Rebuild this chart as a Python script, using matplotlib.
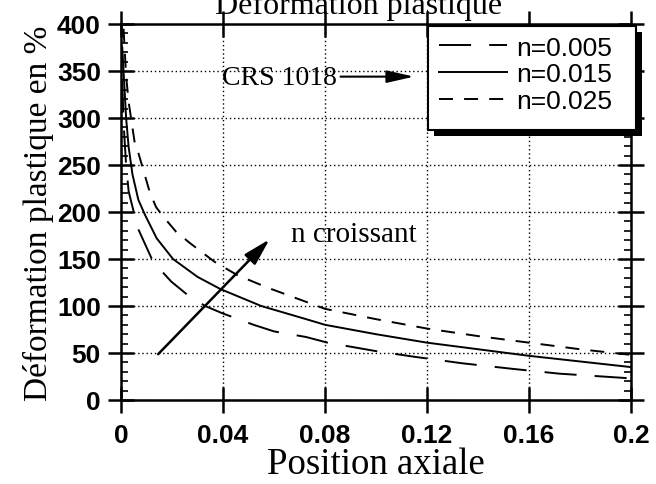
import numpy as np
import matplotlib
matplotlib.use('Agg')
import matplotlib.pyplot as plt
from matplotlib.ticker import MultipleLocator
from matplotlib.patches import Rectangle

# courbes
x_n005 = [0.0005, 0.001, 0.002, 0.003, 0.005, 0.0069, 0.0126, 0.0197, 0.026, 0.033,
          0.04, 0.052, 0.06, 0.0726, 0.081, 0.1, 0.115, 0.134, 0.154, 0.172, 0.2]
y_n005 = [340, 295, 250, 222, 200, 181, 147, 126, 112, 100,
          92, 80, 73, 67, 61, 52, 46, 39, 33, 28, 23]

x_n015 = [0.0005, 0.001, 0.002, 0.003, 0.0045, 0.0068, 0.0094, 0.014, 0.0204, 0.03,
          0.039, 0.055, 0.0726, 0.08, 0.1, 0.12, 0.14, 0.16, 0.18, 0.2]
y_n015 = [375, 350, 300, 269, 240, 213, 197, 172, 150, 131,
          118, 100, 86, 80, 70, 61, 54, 47, 41, 35]

x_n025 = [0.001, 0.002, 0.003, 0.0053, 0.0069, 0.0114, 0.0138, 0.0166, 0.0216, 0.027,
          0.0367, 0.0455, 0.057, 0.067, 0.08, 0.1, 0.12, 0.14, 0.16, 0.18, 0.2]
y_n025 = [395, 345, 317, 275, 262, 220, 205, 195, 179, 167,
          147, 133, 120, 110, 97, 86, 76, 68, 61, 54, 48]

labels = ['n=0.005', 'n=0.015', 'n=0.025']
xticks = [0, 0.04, 0.08, 0.12, 0.16, 0.2]
xtick_labels = ['0', '0.04', '0.08', '0.12', '0.16', '0.2']
yticks = [0, 50, 100, 150, 200, 250, 300, 350, 400]

serif = 'Liberation Serif'
sans = 'Liberation Sans'
W, H = 656, 485

fig = plt.figure(figsize=(6.56, 4.85), dpi=100)
ax = fig.add_axes([121/W, 1 - 401/H, (631 - 121)/W, (401 - 25)/H])

lw = 1.4
ax.plot(x_n005, y_n005, color='k', lw=lw, dashes=(16.5, 9.3), label=labels[0])
ax.plot(x_n015, y_n015, color='k', lw=lw, label=labels[1])
ax.plot(x_n025, y_n025, color='k', lw=lw, dashes=(7.2, 5.7), label=labels[2])

ax.set_xlim(0, 0.2)
ax.set_ylim(0, 400)
ax.set_xticks(xticks)
ax.set_xticklabels(xtick_labels)
ax.set_yticks(yticks)
ax.yaxis.set_minor_locator(MultipleLocator(10))

ax.grid(True, which='major', color='k', linestyle=(0, (1, 2)), linewidth=1.0)
ax.set_axisbelow(True)

for sp in ax.spines.values():
    sp.set_linewidth(1.8)

ax.tick_params(which='major', direction='inout', length=19, width=1.8,
               top=True, right=True, labelsize=19, pad=5)
ax.tick_params(axis='x', which='major', pad=7)
ax.tick_params(axis='y', which='minor', direction='in', length=5, width=1.2,
               left=True, right=True)
for t in ax.get_xticklabels() + ax.get_yticklabels():
    t.set_family(sans)
    t.set_weight('bold')

ax.set_xlabel('Position axiale', family=serif, fontsize=26.5, labelpad=0)
ax.set_ylabel('Déformation plastique en %', family=serif, fontsize=24, labelpad=2)

fig.text(359/W, 1 - 14/H, 'Déformation plastique', family=serif,
         fontsize=23, ha='center', va='baseline')

# annotations
ax.text(0.062, 336, 'CRS 1018', family=serif, fontsize=20, ha='center', va='baseline')
ax.annotate('', xy=(0.116, 344), xytext=(0.085, 344),
            arrowprops=dict(arrowstyle='-|>,head_length=1.1,head_width=0.25',
                            color='k', lw=1.5, mutation_scale=15))
ax.text(0.0665, 169.5, 'n croissant', family=serif, fontsize=21, ha='left', va='baseline')
ax.annotate('', xy=(0.059, 173), xytext=(0.0138, 46.6),
            arrowprops=dict(arrowstyle='-|>,head_length=1.1,head_width=0.3',
                            color='k', lw=1.8, mutation_scale=15))

# cadre de la légende avec ombre noire
shadow = Rectangle((434/W, 1 - 137/H), 208/W, 104/H, transform=fig.transFigure,
                   facecolor='k', edgecolor='none', clip_on=False, zorder=4)
box = Rectangle((428/W, 1 - 131/H), 208/W, 104/H, transform=fig.transFigure,
                facecolor='w', edgecolor='k', lw=1.5, clip_on=False, zorder=4.1)
ax.add_patch(shadow)
ax.add_patch(box)

leg = ax.legend(loc='upper left', bbox_to_anchor=(428/W, 1 - 26/H),
                bbox_transform=fig.transFigure, prop={'family': sans, 'size': 19},
                handlelength=2.6, handletextpad=0.35, labelspacing=0.1,
                borderpad=0.4, borderaxespad=0, frameon=False)
leg.set_zorder(5)

fig.savefig('out.png', dpi=100)
